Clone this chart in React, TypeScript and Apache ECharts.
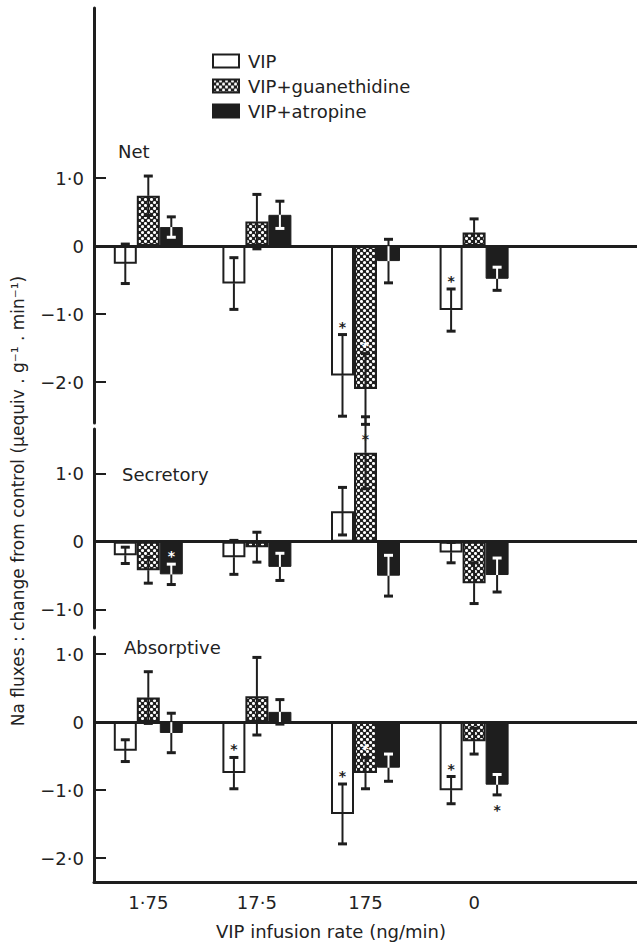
import React, { useEffect, useRef } from 'react';
import * as echarts from 'echarts';

// ---------- data ----------
const categories = ['1·75', '17·5', '175', '0'];
const seriesNames = ['VIP', 'VIP+guanethidine', 'VIP+atropine'];
const panelNames = ['Net', 'Secretory', 'Absorptive'];
const yAxisTitle = 'Na fluxes : change from control (μequiv . g⁻¹ . min⁻¹)';
const xAxisTitle = 'VIP infusion rate (ng/min)';

// Net
const netVIP = [-0.26, -0.55, -1.9, -0.94];
const netVIPErr = [0.29, 0.38, 0.6, 0.31];
const netGuan = [0.74, 0.36, -2.1, 0.2];
const netGuanErr = [0.29, 0.4, 0.52, 0.2];
const netAtro = [0.28, 0.46, -0.22, -0.48];
const netAtroErr = [0.15, 0.2, 0.32, 0.17];

// Secretory
const secVIP = [-0.2, -0.23, 0.45, -0.16];
const secVIPErr = [0.12, 0.25, 0.35, 0.15];
const secGuan = [-0.42, -0.08, 1.31, -0.61];
const secGuanErr = [0.19, 0.22, 0.53, 0.3];
const secAtro = [-0.48, -0.37, -0.5, -0.49];
const secAtroErr = [0.15, 0.2, 0.3, 0.25];

// Absorptive
const absVIP = [-0.42, -0.75, -1.35, -1.0];
const absVIPErr = [0.16, 0.23, 0.44, 0.2];
const absGuan = [0.36, 0.38, -0.75, -0.28];
const absGuanErr = [0.38, 0.57, 0.23, 0.19];
const absAtro = [-0.16, 0.15, -0.67, -0.92];
const absAtroErr = [0.29, 0.18, 0.2, 0.15];

// significance marks: [category index, series index, placement (0 inside, 1 beyond, 2 on whisker)]
const netStars = [[2, 0, 0], [2, 1, 0], [3, 0, 0]];
const secStars = [[0, 2, 0], [2, 1, 2]];
const absStars = [[1, 0, 0], [2, 0, 0], [2, 1, 0], [3, 0, 0], [3, 2, 1]];

// y-axis ticks / labels
const netTicks = [-2, -1, 1];
const netLabels = [-2, -1, 0, 1];
const secTicks = [-1, 1];
const secLabels = [-1, 0, 1];
const absTicks = [-2, -1, 1];
const absLabels = [-2, -1, 0, 1];

// ---------- layout / style ----------
const INK = '#1e1e1e';
const FONT = '"DejaVu Sans", "Liberation Sans", Arial, sans-serif';
const BAR_W = 23;
const CAP = 4.5;
const LEFT = 94;
const GRIDW = 543;
const GRIDS = [
  { top: 8, height: 415, min: -2.6, max: 3.5 },
  { top: 429, height: 199, min: -1.27, max: 1.66 },
  { top: 637, height: 245, min: -2.35, max: 1.25 },
];
const LABEL_POS = [
  [118, 151],
  [122, 474],
  [124, 647],
];

function fmt(v: number) {
  if (v === 0) return '0';
  return (v < 0 ? '−' : '') + Math.abs(v).toFixed(1).replace('.', '·');
}

function makePattern(): any {
  const cv = document.createElement('canvas');
  cv.width = 6;
  cv.height = 6;
  const g = cv.getContext('2d')!;
  g.fillStyle = INK;
  g.fillRect(0, 0, 6, 6);
  g.fillStyle = '#ffffff';
  g.beginPath();
  g.arc(1.5, 1.5, 1.55, 0, Math.PI * 2);
  g.fill();
  g.beginPath();
  g.arc(4.5, 4.5, 1.55, 0, Math.PI * 2);
  g.fill();
  return { image: cv, repeat: 'repeat', imageWidth: 6, imageHeight: 6 };
}

export default function App() {
  const ref = useRef<HTMLDivElement>(null);

  useEffect(() => {
    if (!ref.current) return;
    const chart = echarts.init(ref.current, undefined, { renderer: 'svg' });
    const pattern = makePattern();

    const panels = [
      { vals: [netVIP, netGuan, netAtro], errs: [netVIPErr, netGuanErr, netAtroErr], stars: netStars, ticks: netTicks, labels: netLabels },
      { vals: [secVIP, secGuan, secAtro], errs: [secVIPErr, secGuanErr, secAtroErr], stars: secStars, ticks: secTicks, labels: secLabels },
      { vals: [absVIP, absGuan, absAtro], errs: [absVIPErr, absGuanErr, absAtroErr], stars: absStars, ticks: absTicks, labels: absLabels },
    ];

    const barStyles = [
      { color: '#ffffff', borderColor: INK, borderWidth: 2 },
      { color: pattern, borderColor: INK, borderWidth: 2 },
      { color: INK, borderColor: INK, borderWidth: 1 },
    ];

    const grid: any[] = [];
    const xAxis: any[] = [];
    const yAxis: any[] = [];
    const series: any[] = [];

    panels.forEach((p, pi) => {
      const G = GRIDS[pi];
      grid.push({ left: LEFT, width: GRIDW, top: G.top, height: G.height });
      const last = pi === 2;
      xAxis.push({
        type: 'category',
        gridIndex: pi,
        data: [...categories, ''],
        boundaryGap: true,
        axisLine: { show: last, onZero: false, lineStyle: { color: INK, width: 3 } },
        axisTick: { show: false },
        axisLabel: {
          show: last,
          interval: 0,
          margin: 11,
          fontSize: 18,
          color: '#222',
          fontFamily: FONT,
        },
        splitLine: { show: false },
      });
      yAxis.push({
        type: 'value',
        gridIndex: pi,
        min: G.min,
        max: G.max,
        axisLine: { show: true, lineStyle: { color: INK, width: 3 } },
        axisTick: { show: true, inside: true, length: 12, customValues: p.ticks, lineStyle: { color: INK, width: 2 } },
        axisLabel: {
          customValues: p.labels,
          formatter: (v: number) => fmt(v),
          fontSize: 18,
          color: '#222',
          margin: 10,
          fontFamily: FONT,
        },
        splitLine: { show: false },
      });

      p.vals.forEach((vals, s) => {
        const ser: any = {
          type: 'bar',
          name: seriesNames[s],
          xAxisIndex: pi,
          yAxisIndex: pi,
          data: vals,
          barWidth: BAR_W,
          barGap: '0%',
          itemStyle: barStyles[s],
          z: 2,
          silent: true,
        };
        if (s === 0) {
          ser.markLine = {
            silent: true,
            symbol: ['none', 'none'],
            label: { show: false },
            lineStyle: { color: INK, width: 3, type: 'solid' },
            data: [{ yAxis: 0 }],
            z: 5,
          };
        }
        series.push(ser);
      });

      const errData: number[][] = [];
      p.vals.forEach((vals, s) => {
        vals.forEach((v, c) => errData.push([c, v, p.errs[s][c], s]));
      });
      series.push({
        type: 'custom',
        xAxisIndex: pi,
        yAxisIndex: pi,
        data: errData,
        encode: { x: 0, y: 1 },
        clip: false,
        silent: true,
        z: 6,
        renderItem: (params: any, api: any) => {
          const c = api.value(0);
          const v = api.value(1);
          const e = api.value(2);
          const s = api.value(3);
          const pv = api.coord([c, v]);
          const x = pv[0] + (s - 1) * BAR_W;
          const yv = pv[1];
          const y0 = api.coord([c, 0])[1];
          const sign = v >= 0 ? 1 : -1;
          const inner = v - sign * e;
          const outer = v + sign * e;
          const yi = api.coord([c, inner])[1];
          const yo = api.coord([c, outer])[1];
          const inColor = s === 2 ? '#ffffff' : INK;
          const crosses = inner * v < 0;
          const children: any[] = [
            { type: 'line', shape: { x1: x, y1: yv, x2: x, y2: yo }, style: { stroke: INK, lineWidth: 2 } },
            { type: 'line', shape: { x1: x - CAP, y1: yo, x2: x + CAP, y2: yo }, style: { stroke: INK, lineWidth: 3 } },
          ];
          if (crosses) {
            children.push({ type: 'line', shape: { x1: x, y1: yv, x2: x, y2: y0 }, style: { stroke: inColor, lineWidth: 2 } });
            children.push({ type: 'line', shape: { x1: x, y1: y0, x2: x, y2: yi }, style: { stroke: INK, lineWidth: 2 } });
            children.push({ type: 'line', shape: { x1: x - CAP, y1: yi, x2: x + CAP, y2: yi }, style: { stroke: INK, lineWidth: 3 } });
          } else {
            children.push({ type: 'line', shape: { x1: x, y1: yv, x2: x, y2: yi }, style: { stroke: inColor, lineWidth: 2 } });
            children.push({ type: 'line', shape: { x1: x - CAP, y1: yi, x2: x + CAP, y2: yi }, style: { stroke: inColor, lineWidth: 3 } });
          }
          return { type: 'group', children };
        },
      });

      const starData = p.stars.map(([c, s, side]) => [c, p.vals[s][c], p.errs[s][c], s, side]);
      series.push({
        type: 'custom',
        xAxisIndex: pi,
        yAxisIndex: pi,
        data: starData,
        encode: { x: 0, y: 1 },
        clip: false,
        silent: true,
        z: 7,
        renderItem: (params: any, api: any) => {
          const c = api.value(0);
          const v = api.value(1);
          const e = api.value(2);
          const s = api.value(3);
          const side = api.value(4);
          const sign = v >= 0 ? 1 : -1;
          const pv = api.coord([c, v]);
          const x = pv[0] + (s - 1) * BAR_W;
          let y: number;
          if (side === 0) {
            y = api.coord([c, v - sign * e])[1] + sign * 12;
          } else if (side === 1) {
            y = api.coord([c, v + sign * e])[1] - sign * 11;
          } else {
            y = (pv[1] + api.coord([c, v + sign * e])[1]) / 2;
          }
          const color = side === 0 && s > 0 ? '#ffffff' : INK;
          return {
            type: 'text',
            x,
            y: y + 4,
            style: {
              text: '*',
              fill: color,
              fontSize: 14,
              fontWeight: 'bold',
              fontFamily: FONT,
              align: 'center',
              verticalAlign: 'middle',
            },
          };
        },
      });
    });

    const graphic: any[] = panelNames.map((n, i) => ({
      type: 'text',
      x: LABEL_POS[i][0],
      y: LABEL_POS[i][1],
      style: { text: n, fontSize: 18, fill: '#222', fontFamily: FONT, align: 'left', verticalAlign: 'middle' },
    }));
    graphic.push({
      type: 'text',
      x: 331,
      y: 931,
      style: { text: xAxisTitle, fontSize: 18, fill: '#222', fontFamily: FONT, align: 'center', verticalAlign: 'middle' },
    });
    graphic.push({
      type: 'text',
      x: 18,
      y: 501,
      rotation: Math.PI / 2,
      style: { text: yAxisTitle, fontSize: 17, fill: '#222', fontFamily: FONT, align: 'center', verticalAlign: 'middle' },
    });

    chart.setOption({
      animation: false,
      backgroundColor: '#ffffff',
      textStyle: { fontFamily: FONT },
      legend: {
        data: seriesNames,
        orient: 'vertical',
        left: 212,
        top: 52,
        padding: 0,
        itemWidth: 26,
        itemHeight: 13,
        itemGap: 7,
        icon: 'rect',
        selectedMode: false,
        textStyle: { fontSize: 18, color: '#222', fontFamily: FONT, padding: [0, 0, 0, 4] },
      },
      grid,
      xAxis,
      yAxis,
      series,
      graphic,
    });

    return () => chart.dispose();
  }, []);

  return (
    <div
      ref={ref}
      style={{ position: 'fixed', left: 0, top: 0, width: 637, height: 942, background: '#fff' }}
    />
  );
}
